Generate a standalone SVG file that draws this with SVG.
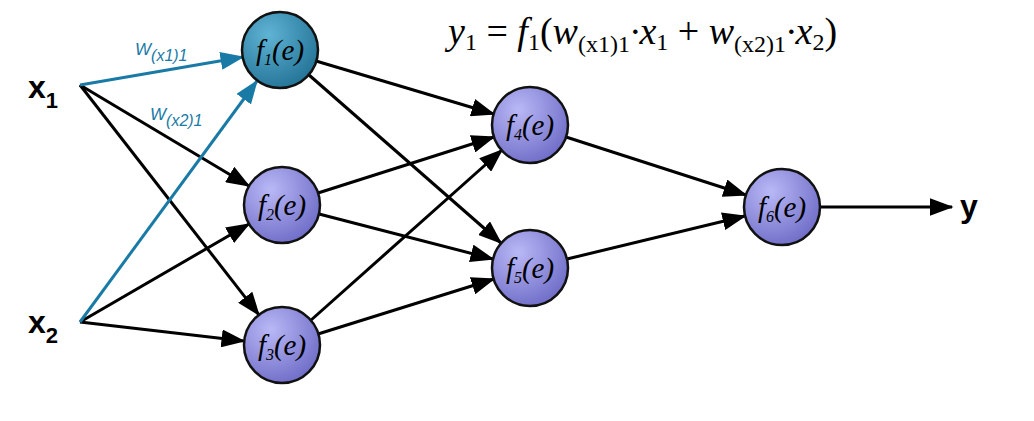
<svg xmlns="http://www.w3.org/2000/svg" width="1034" height="421" viewBox="0 0 1034 421">
<style>
.e{stroke:#000;stroke-width:3;fill:none;marker-end:url(#a)}
.b{stroke:#1a7aa6;stroke-width:3;fill:none;marker-end:url(#ab)}
.n{stroke:#111;stroke-width:2.5;fill:url(#gp)}
.t{font-family:"Liberation Serif",serif;font-style:italic;font-size:29px;fill:#000}
.s{font-size:16px}
.lab{font-family:"Liberation Sans",sans-serif;font-weight:bold;font-size:32px;fill:#000}
.w{font-family:"Liberation Sans",sans-serif;font-style:italic;font-size:17px;fill:#1a7aa6}
</style>
<defs>
<radialGradient id="gp" cx="0.35" cy="0.3" r="0.8"><stop offset="0" stop-color="#b9b8f6"/><stop offset="1" stop-color="#6a68c4"/></radialGradient>
<radialGradient id="gb" cx="0.35" cy="0.3" r="0.8"><stop offset="0" stop-color="#5fb3d3"/><stop offset="1" stop-color="#1f6f93"/></radialGradient>
<marker id="a" markerWidth="8" markerHeight="6" refX="7.5" refY="3" orient="auto" markerUnits="strokeWidth"><path d="M0,0L8,3L0,6Z" fill="#000"/></marker>
<marker id="ab" markerWidth="8" markerHeight="6" refX="7.5" refY="3" orient="auto" markerUnits="strokeWidth"><path d="M0,0L8,3L0,6Z" fill="#1a7aa6"/></marker>
</defs>
<g id="connectors">
<path class="e" d="M80,85L249,186"/><path class="e" d="M80,85L259,315"/>
<path class="e" d="M80,322L249,224"/><path class="e" d="M80,322L244,341"/>
<path class="b" d="M80,85L243,57"/><path class="b" d="M80,322L257,81"/>
<path class="e" d="M316,61L494,114"/><path class="e" d="M309,75L501,243"/>
<path class="e" d="M318,193L494,137"/><path class="e" d="M319,214L493,259"/>
<path class="e" d="M310,321L502,150"/><path class="e" d="M318,334L494,279"/>
<path class="e" d="M566,137L746,195"/><path class="e" d="M567,259L745,216"/>
<path class="e" d="M820,207L952,207"/>
</g>
<text class="w" x="135" y="55">W<tspan class="s" dy="6">(x1)1</tspan></text>
<text class="w" x="150" y="120">W<tspan class="s" dy="6">(x2)1</tspan></text>
<g id="x1"><text class="lab" x="28" y="98">x<tspan font-size="22" dy="10">1</tspan></text></g>
<g id="x2"><text class="lab" x="28" y="333">x<tspan font-size="22" dy="10">2</tspan></text></g>
<g id="y"><text class="lab" x="960" y="217">y</text></g>
<g id="f1"><circle cx="280" cy="50" r="38" stroke="#111" stroke-width="2.5" fill="url(#gb)"/><text class="t" x="280" y="60" text-anchor="middle">f<tspan class="s" dy="5">1</tspan><tspan dy="-5">(e)</tspan></text></g>
<g id="f2"><circle class="n" cx="282" cy="205" r="38"/><text class="t" x="282" y="215" text-anchor="middle">f<tspan class="s" dy="5">2</tspan><tspan dy="-5">(e)</tspan></text></g>
<g id="f3"><circle class="n" cx="282" cy="345" r="38"/><text class="t" x="282" y="355" text-anchor="middle">f<tspan class="s" dy="5">3</tspan><tspan dy="-5">(e)</tspan></text></g>
<g id="f4"><circle class="n" cx="530" cy="125" r="38"/><text class="t" x="530" y="135" text-anchor="middle">f<tspan class="s" dy="5">4</tspan><tspan dy="-5">(e)</tspan></text></g>
<g id="f5"><circle class="n" cx="530" cy="268" r="38"/><text class="t" x="530" y="278" text-anchor="middle">f<tspan class="s" dy="5">5</tspan><tspan dy="-5">(e)</tspan></text></g>
<g id="f6"><circle class="n" cx="782" cy="207" r="38"/><text class="t" x="782" y="217" text-anchor="middle">f<tspan class="s" dy="5">6</tspan><tspan dy="-5">(e)</tspan></text></g>
<text x="448" y="44" font-family="Liberation Serif,serif" font-style="italic" font-size="38" fill="#000">y<tspan font-size="24" font-style="normal" dy="6">1</tspan><tspan dy="-6" font-style="normal"> = </tspan>f<tspan font-size="24" font-style="normal" dy="6">1</tspan><tspan dy="-6" font-style="normal">(</tspan>w<tspan font-size="24" font-style="normal" dy="8">(x1)1</tspan><tspan dy="-8">·x</tspan><tspan font-size="24" font-style="normal" dy="6">1</tspan><tspan dy="-6" font-style="normal"> + </tspan>w<tspan font-size="24" font-style="normal" dy="8">(x2)1</tspan><tspan dy="-8">·x</tspan><tspan font-size="24" font-style="normal" dy="6">2</tspan><tspan dy="-6" font-style="normal">)</tspan></text>
</svg>
